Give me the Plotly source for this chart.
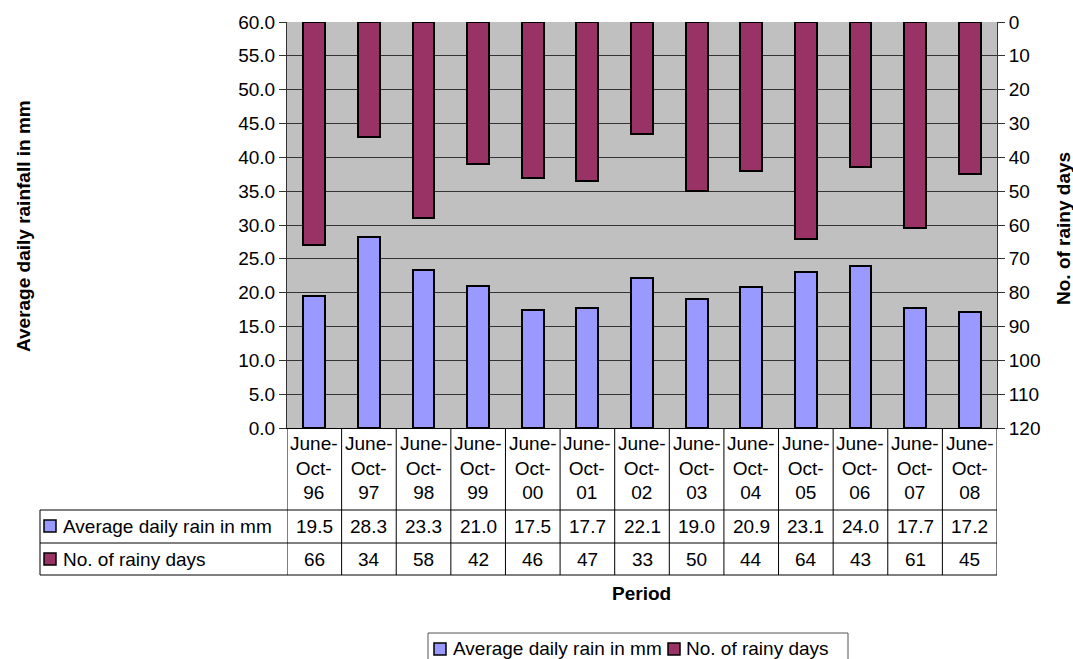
import plotly.graph_objects as go

# Data
years = ["96", "97", "98", "99", "00", "01", "02", "03", "04", "05", "06", "07", "08"]
avg_rain_mm = [19.5, 28.3, 23.3, 21.0, 17.5, 17.7, 22.1, 19.0, 20.9, 23.1, 24.0, 17.7, 17.2]
rainy_days = [66, 34, 58, 42, 46, 47, 33, 50, 44, 64, 43, 61, 45]
series_names = ["Average daily rain in mm", "No. of rainy days"]

periods = ["June-Oct-" + y for y in years]
header_labels = ["June-<br>Oct-<br>" + y for y in years]

FONT = "Liberation Sans, Arial, sans-serif"
BLUE = "#9999FF"
MAROON = "#993366"

W, H = 1073, 659
L, R, T, B = 287, 997, 22, 428  # plot-area edges in pixels


def px(xp):
    return (xp - L) / (R - L)


def py(yp):
    return (B - yp) / (B - T)


fig = go.Figure()
fig.add_trace(go.Bar(
    x=periods, y=avg_rain_mm, name=series_names[0],
    marker=dict(color=BLUE, line=dict(color="black", width=2)),
    width=0.4, yaxis="y",
))
fig.add_trace(go.Bar(
    x=periods, y=rainy_days, name=series_names[1],
    marker=dict(color=MAROON, line=dict(color="black", width=2)),
    width=0.4, yaxis="y2",
))

shapes = []
annotations = []
n = len(periods)
text_font = dict(size=19, color="black", family=FONT)

# Data table grid lines
line = dict(color="black", width=1)
for k in range(n + 1):
    shapes.append(dict(type="line", xref="x", yref="paper",
                       x0=k - 0.5, x1=k - 0.5, y0=0, y1=py(575), line=line))
for yy in (510, 543, 575):
    shapes.append(dict(type="line", xref="paper", yref="paper",
                       x0=px(40), x1=1, y0=py(yy), y1=py(yy), line=line))
shapes.append(dict(type="line", xref="paper", yref="paper",
                   x0=px(40), x1=px(40), y0=py(510), y1=py(575), line=line))

# Column headers
for i, lab in enumerate(header_labels):
    annotations.append(dict(xref="x", yref="paper", x=i, y=py(468),
                            text=lab, showarrow=False, xanchor="center",
                            yanchor="middle", font=text_font))

# Table rows
row_y = [526.5, 559.5]
row_vals = [["%.1f" % v for v in avg_rain_mm], [str(v) for v in rainy_days]]
row_colors = [BLUE, MAROON]
for r in range(2):
    for i, t in enumerate(row_vals[r]):
        annotations.append(dict(xref="x", yref="paper", x=i, y=py(row_y[r]),
                                text=t, showarrow=False, xanchor="center",
                                yanchor="middle", font=text_font))
    annotations.append(dict(xref="paper", yref="paper", x=px(61), y=py(row_y[r]),
                            text=series_names[r], showarrow=False,
                            xanchor="left", yanchor="middle", font=text_font))
    top = row_y[r] - 6.5
    shapes.append(dict(type="rect", xref="paper", yref="paper",
                       x0=px(44), x1=px(56), y0=py(top), y1=py(top + 12),
                       fillcolor=row_colors[r], line=dict(color="black", width=1.5)))

# Legend box below the table
shapes.append(dict(type="rect", xref="paper", yref="paper",
                   x0=px(428), x1=px(848), y0=py(633), y1=py(675),
                   fillcolor="white", line=dict(color="#555555", width=1)))
legend_items = [(434, 451), (668, 684)]
for (kx, tx), name, col in zip(legend_items, series_names, row_colors):
    shapes.append(dict(type="rect", xref="paper", yref="paper",
                       x0=px(kx), x1=px(kx + 12), y0=py(643), y1=py(655),
                       fillcolor=col, line=dict(color="black", width=1.5)))
    annotations.append(dict(xref="paper", yref="paper", x=px(tx), y=py(648),
                            text=name, showarrow=False, xanchor="left",
                            yanchor="middle", font=text_font))

# Axis titles
title_font = dict(size=19, color="black", family=FONT)
annotations.append(dict(xref="paper", yref="paper", x=px(23), y=py(226),
                        text="<b>Average daily rainfall in mm</b>", textangle=-90,
                        xanchor="center", yanchor="middle",
                        showarrow=False, font=title_font))
annotations.append(dict(xref="paper", yref="paper", x=px(1063), y=py(229),
                        text="<b>No. of rainy days</b>", textangle=-90,
                        xanchor="center", yanchor="middle",
                        showarrow=False, font=title_font))
annotations.append(dict(xref="paper", yref="paper", x=px(641), y=py(593),
                        text="<b>Period</b>", xanchor="center", yanchor="middle",
                        showarrow=False, font=title_font))

fig.update_layout(
    width=W, height=H,
    margin=dict(l=L, r=W - R, t=T, b=H - B, pad=0),
    paper_bgcolor="white", plot_bgcolor="#C0C0C0",
    barmode="overlay", bargap=0,
    font=dict(family=FONT, size=19, color="black"),
    showlegend=False,
    xaxis=dict(type="category", showticklabels=False, showgrid=False,
               showline=True, linecolor="black", linewidth=1,
               range=[-0.5, n - 0.5], ticks=""),
    yaxis=dict(range=[0, 60], dtick=5, tickformat=".1f", showgrid=True,
               gridcolor="#333333", gridwidth=1, showline=True,
               linecolor="#333333", linewidth=1, ticks="outside",
               ticklen=7, tickcolor="#333333", zeroline=False,
               tickfont=text_font),
    yaxis2=dict(range=[120, 0], dtick=10, overlaying="y", side="right",
                showgrid=False, showline=True, linecolor="#333333",
                linewidth=1, ticks="outside", ticklen=7, tickcolor="#333333",
                zeroline=False, tickfont=text_font),
    shapes=shapes,
    annotations=annotations,
)

fig.write_html("out.html")
